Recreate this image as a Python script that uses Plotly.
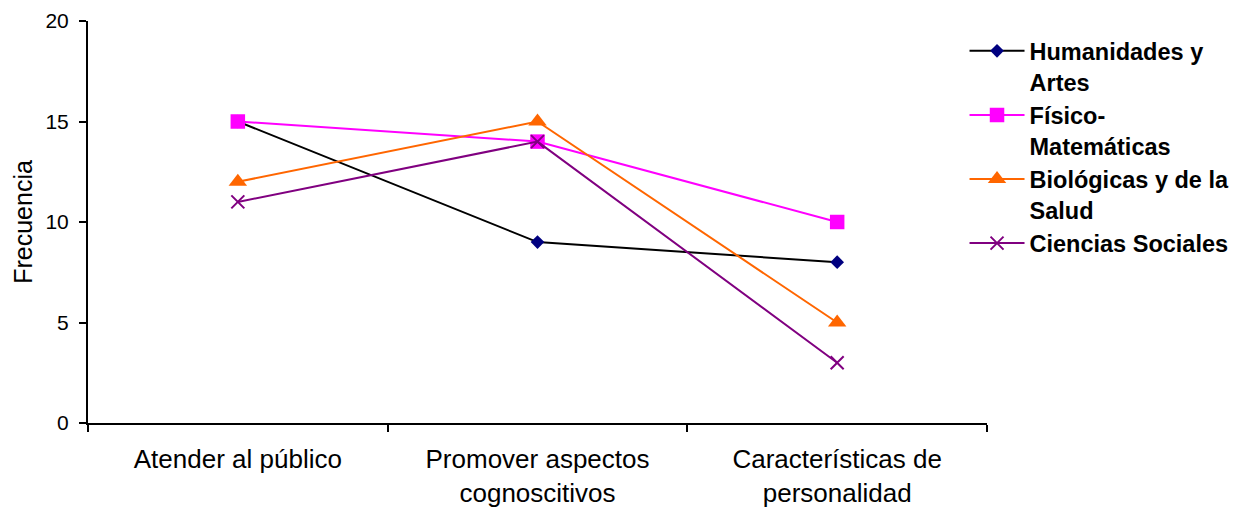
import plotly.graph_objects as go

categories = ["Atender al público", "Promover aspectos<br>cognoscitivos", "Características de<br>personalidad"]
series_names = ["Humanidades y<br>Artes", "Físico-<br>Matemáticas", "Biológicas y de la<br>Salud", "Ciencias Sociales"]
humanidades = [15, 9, 8]
fisico = [15, 14, 10]
biologicas = [12, 15, 5]
sociales = [11, 14, 3]

FONT = "Liberation Sans, Arial, sans-serif"

fig = go.Figure()
fig.add_trace(go.Scatter(x=categories, y=humanidades, name=series_names[0], mode="lines+markers",
                         line=dict(color="#000000", width=2),
                         marker=dict(symbol="diamond", size=10.5, color="#000080")))
fig.add_trace(go.Scatter(x=categories, y=fisico, name=series_names[1], mode="lines+markers",
                         line=dict(color="#FF00FF", width=2),
                         marker=dict(symbol="square", size=14.5, color="#FF00FF")))
fig.add_trace(go.Scatter(x=categories, y=biologicas, name=series_names[2], mode="lines+markers",
                         line=dict(color="#FF6600", width=2),
                         marker=dict(symbol="triangle-up", size=16, color="#FF6600")))
fig.add_trace(go.Scatter(x=categories, y=sociales, name=series_names[3], mode="lines+markers",
                         line=dict(color="#800080", width=2),
                         marker=dict(symbol="x-thin", size=13, color="#800080",
                                     line=dict(color="#800080", width=2))))

fig.update_layout(
    width=1244, height=509,
    margin=dict(l=88, r=257, t=21, b=86, autoexpand=False),
    paper_bgcolor="white", plot_bgcolor="white",
    font=dict(family=FONT, color="black", size=20),
    showlegend=True,
    legend=dict(x=0.975, y=0.98, xanchor="left", yanchor="top",
                font=dict(family=FONT, size=23.5, color="black", weight="bold"),
                valign="top", itemwidth=55,
                bgcolor="rgba(0,0,0,0)"),
)
fig.update_xaxes(type="category", tickson="boundaries", range=[-0.5, 2.5],
                 automargin=False,
                 showline=True, linecolor="black", linewidth=2,
                 ticks="outside", ticklen=7, tickwidth=2, tickcolor="black",
                 ticklabelstandoff=12,
                 showgrid=False, zeroline=False,
                 tickfont=dict(family=FONT, size=26, color="black"))
fig.update_yaxes(range=[0, 20], dtick=5, tick0=0,
                 automargin=False,
                 showline=True, linecolor="black", linewidth=2,
                 ticks="outside", ticklen=7, tickwidth=2, tickcolor="black",
                 ticklabelstandoff=6,
                 showgrid=False, zeroline=False,
                 tickfont=dict(family=FONT, size=21, color="black"),
                 title=dict(text="Frecuencia", font=dict(family=FONT, size=25, color="black"), standoff=6))

fig.write_html("out.html")
